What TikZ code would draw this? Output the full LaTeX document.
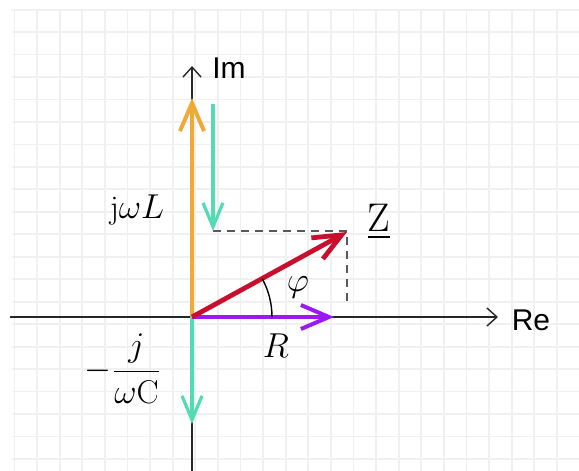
\documentclass[tikz,border=0pt]{standalone}
\usepackage{fontspec}
\setsansfont{Liberation Sans}
\usepackage{amsmath}
\usetikzlibrary{arrows.meta}
\definecolor{indcolor}{HTML}{EFA935}
\definecolor{capcolor}{HTML}{52DBB5}
\definecolor{impcolor}{HTML}{C8102E}
\definecolor{rescolor}{HTML}{9A1AF5}

\begin{document}
\begin{tikzpicture}[
        x=0.5pt, y=-0.5pt,
        gridline/.style={line width=0.9pt, color=black!6},
        axis/.style={-{Straight Barb[length=5pt, width=9pt]}, line width=0.7pt, color=black!85},
        vector/.style={-{Straight Barb[length=14pt, width=12pt]}, line width=2pt},
        helper/.style={dash pattern=on 4pt off 3pt, line width=0.7pt, color=black!65},
        lbl/.style={font=\fontsize{16.5}{19}\selectfont},
        axlbl/.style={font=\fontsize{15}{18}\selectfont\sffamily}
        ]
        \useasboundingbox (0,0) rectangle (579,471);
        \fill[white] (0,0) rectangle (579,471);
        \foreach \i in {0,...,24} \draw[gridline] ({14.4+22.6*\i},10) -- ({14.4+22.6*\i},471);
        \foreach \j in {0,...,20} \draw[gridline] (12,{9.6+22.47*\j}) -- (579,{9.6+22.47*\j});

        \coordinate (O) at (192,317);
        \coordinate (imtip) at (192,66);
        \coordinate (imend) at (192,471);
        \coordinate (rebeg) at (10,317);
        \coordinate (retip) at (498,317);
        \coordinate (L) at (192,98);
        \coordinate (Ctop) at (213,104);
        \coordinate (Cbot) at (213,231);
        \coordinate (Z) at (347,232);
        \coordinate (Zfoot) at (347,302);
        \coordinate (R) at (334,317);
        \coordinate (C) at (192,424);

        \node (im) [axlbl] at (229,68) {Im};
        \node (re) [axlbl] at (531,320) {Re};
        \node (zl) [lbl, font=\fontsize{20}{22}\selectfont] at (379,222) {$\underline{\mathrm{Z}}$};
        \node (jwl) [lbl] at (137,210) {$\mathrm{j}\omega L$};
        \node (phi) [lbl] at (298,287) {$\varphi$};
        \node (rl) [lbl] at (276,346) {$R$};
        \node (cap) [lbl] at (123,369) {$-\dfrac{j}{\omega\mathrm{C}}$};

        \draw [axis] (imend) -- (imtip);
        \draw [axis] (rebeg) -- (retip);
        \draw [helper] (Cbot) -| (Zfoot);
        \draw [vector, indcolor] (O) -- (L);
        \draw [vector, capcolor, line width=1.6pt, -{Straight Barb[length=12pt, width=10pt]}] (Ctop) -- (Cbot);
        \draw [vector, capcolor, line width=1.6pt, -{Straight Barb[length=12pt, width=10pt]}] (O) -- (C);
        \draw [vector, rescolor] (O) -- (R);
        \draw [vector, impcolor, line width=2.4pt] (O) -- (Z);
        \draw [line width=0.7pt] ([shift={(0:80)}]O) arc[start angle=0, end angle=-28.6, radius=80];
    \end{tikzpicture}
\end{document}
